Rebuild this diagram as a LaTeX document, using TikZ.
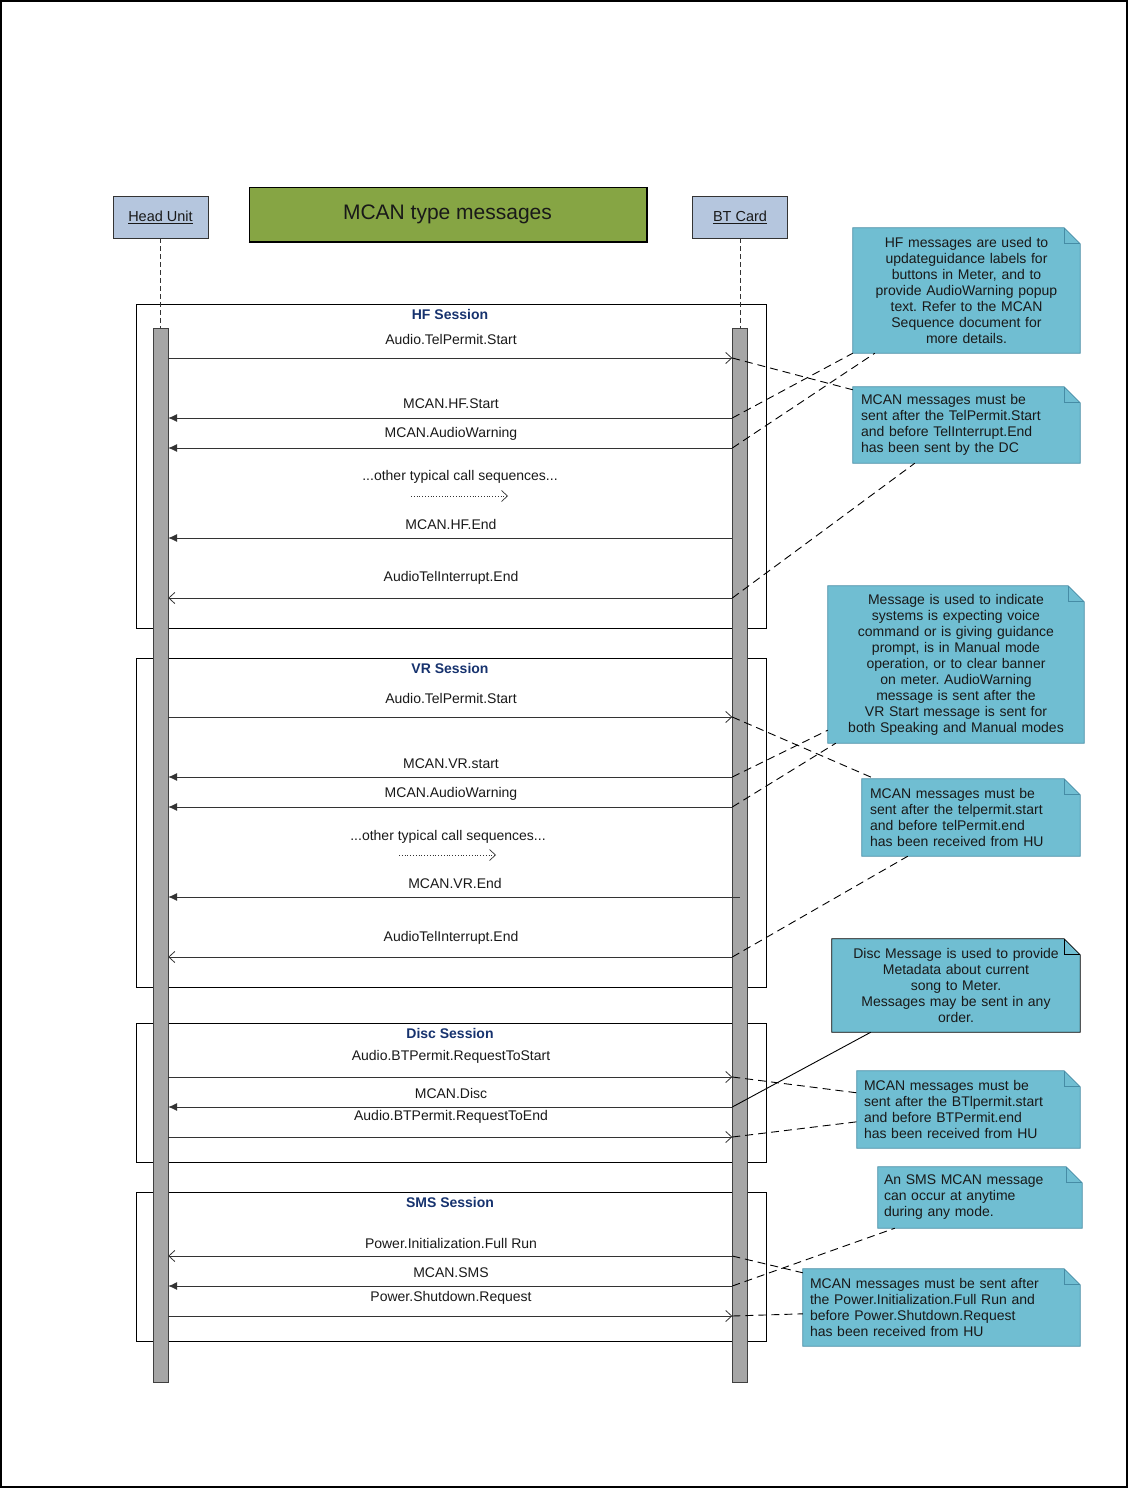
\documentclass[tikz,border=0pt]{standalone}
\usepackage{fontspec}
\setmainfont{Liberation Sans}
\usetikzlibrary{arrows.meta,calc,backgrounds}
\definecolor{notefill}{RGB}{112,190,210}
\definecolor{notedraw}{RGB}{70,140,165}
\definecolor{actorfill}{RGB}{181,198,222}
\definecolor{titlegreen}{RGB}{134,165,68}
\definecolor{barfill}{RGB}{166,166,166}
\definecolor{sessblue}{RGB}{22,50,110}
\definecolor{inkc}{RGB}{25,25,25}
\frenchspacing

\newcommand\mkmsg[2]{% name, y
  \coordinate (#1y) at (0,#2);
  \coordinate (#1) at (btbar.west |- #1y);
  \coordinate (#1h) at (hubar.east |- #1y);
}
\newcommand\notebg[2][notedraw]{%
  \filldraw[fill=notefill, draw=#1, line width=0.8pt]
    (#2.north west) -- ([xshift=-16pt]#2.north east) -- ([yshift=-16pt]#2.north east)
    -- (#2.south east) -- (#2.south west) -- cycle;
  \draw[draw=#1, line width=0.8pt] ([xshift=-16pt]#2.north east) |- ([yshift=-16pt]#2.north east);
}

\begin{document}
\begin{tikzpicture}[x=1pt,y=-1pt,
  actor/.style={draw=black!80, fill=actorfill, minimum width=95pt, minimum height=42pt,
    inner sep=0pt, text=inkc, font=\fontsize{14.5}{16}\selectfont},
  titlebox/.style={draw=black, line width=1pt, fill=titlegreen, minimum width=397pt,
    minimum height=54pt, inner sep=0pt, text=inkc, font=\fontsize{21}{23}\selectfont},
  actbar/.style={draw=black!75, fill=barfill, minimum width=15pt, minimum height=1054pt, inner sep=0pt},
  lifeline/.style={draw=black!80, line width=0.7pt, dash pattern=on 5pt off 3pt},
  session/.style={draw=black, line width=0.8pt, minimum width=630pt, inner sep=0pt},
  sesstitle/.style={text=sessblue, font=\bfseries\fontsize{14}{15}\selectfont, inner sep=0pt},
  msglabel/.style={text=inkc, font=\fontsize{14}{15}\selectfont, inner sep=0pt},
  msg/.style={draw=black!80, line width=0.8pt},
  openhead/.style={msg, -{Straight Barb[length=6pt,width=11pt,line width=0.8pt]}},
  fullhead/.style={msg, -{Latex[length=9pt,width=8pt]}},
  dotmsg/.style={draw=black!80, line width=0.8pt, dotted, -{Straight Barb[length=6pt,width=11pt,line width=0.7pt]}},
  note/.style={draw=none, inner xsep=8pt, inner ysep=0pt, text=inkc,
    font=\fontsize{14}{16}\selectfont},
  notelink/.style={draw=black, line width=0.9pt, dash pattern=on 8pt off 5pt},
  disclink/.style={draw=black, line width=0.9pt}
]
\useasboundingbox (0,0) rectangle (1128,1488);
\draw[line width=2pt] (1,1) rectangle (1127,1487);

% actors and title
\node[actor] (hu) at (160.5,217) {\underline{Head Unit}};
\node[actor] (bt) at (740,217) {\underline{BT Card}};
\node[titlebox] (title) at (447.5,214) {MCAN type messages};
\draw[line width=1.4pt] ([yshift=-1pt]title.south west) -- ([xshift=1pt,yshift=-1pt]title.south east) -- ([xshift=1pt]title.north east);

% session frames
\node[session, minimum height=324pt] (hfs) at (451,466) {};
\node[session, minimum height=329pt] (vrs) at (451,822.5) {};
\node[session, minimum height=139pt] (dcs) at (451,1092.5) {};
\node[session, minimum height=149pt] (sms) at (451,1266.5) {};
\node[sesstitle] (hft) at (450,314) {HF Session};
\node[sesstitle] (vrt) at (450,668) {VR Session};
\node[sesstitle] (dct) at (450,1033) {Disc Session};
\node[sesstitle] (smt) at (450,1202) {SMS Session};

% activation bars
\node[actbar] (hubar) at (160.5,855) {};
\node[actbar] (btbar) at (740,855) {};
\draw[lifeline] (hu.south) -- (hubar.north);
\draw[lifeline] (bt.south) -- (btbar.north);

% ---------- HF session
\mkmsg{hf1}{358}\mkmsg{hf2}{418}\mkmsg{hf3}{448}\mkmsg{hf5}{538}\mkmsg{hf6}{598}
\node[msglabel] (hf1l) at (451,339) {Audio.TelPermit.Start};
\node[msglabel] (hf2l) at (451,404) {MCAN.HF.Start};
\node[msglabel] (hf3l) at (451,434) {MCAN.AudioWarning};
\node[msglabel] (hf4l) at (460,477) {...other typical call sequences...};
\node[msglabel] (hf5l) at (451,524) {MCAN.HF.End};
\node[msglabel] (hf6l) at (451,578) {AudioTelInterrupt.End};
\draw[openhead] (hf1h) -- (hf1);
\draw[fullhead] (hf2) -- (hf2h);
\draw[fullhead] (hf3) -- (hf3h);
\coordinate (hfd1) at (411,496); \coordinate (hfd2) at (508,496);
\draw[dotmsg] (hfd1) -- (hfd2);
\draw[fullhead] (hf5) -- (hf5h);
\draw[openhead] (hf6) -- (hf6h);

% ---------- VR session
\mkmsg{vr1}{717}\mkmsg{vr2}{777}\mkmsg{vr3}{807}\mkmsg{vr5}{897}\mkmsg{vr6}{957}
\node[msglabel] (vr1l) at (451,698) {Audio.TelPermit.Start};
\node[msglabel] (vr2l) at (451,764) {MCAN.VR.start};
\node[msglabel] (vr3l) at (451,794) {MCAN.AudioWarning};
\node[msglabel] (vr4l) at (448,837) {...other typical call sequences...};
\node[msglabel] (vr5l) at (455,883) {MCAN.VR.End};
\node[msglabel] (vr6l) at (451,938) {AudioTelInterrupt.End};
\draw[openhead] (vr1h) -- (vr1);
\draw[fullhead] (vr2) -- (vr2h);
\draw[fullhead] (vr3) -- (vr3h);
\coordinate (vrd1) at (399,855); \coordinate (vrd2) at (496,855);
\draw[dotmsg] (vrd1) -- (vrd2);
\draw[fullhead] (btbar.center |- vr5y) -- (vr5h);
\draw[openhead] (vr6) -- (vr6h);

% ---------- Disc session
\mkmsg{dc1}{1077}\mkmsg{dc2}{1107}\mkmsg{dc3}{1137}
\node[msglabel] (dc1l) at (451,1057) {Audio.BTPermit.RequestToStart};
\node[msglabel] (dc2l) at (451,1093) {MCAN.Disc};
\node[msglabel] (dc3l) at (451,1117) {Audio.BTPermit.RequestToEnd};
\draw[openhead] (dc1h) -- (dc1);
\draw[fullhead] (dc2) -- (dc2h);
\draw[openhead] (dc3h) -- (dc3);

% ---------- SMS session
\mkmsg{sm1}{1256}\mkmsg{sm2}{1286}\mkmsg{sm3}{1316}
\node[msglabel] (sm1l) at (451,1243) {Power.Initialization.Full Run};
\node[msglabel] (sm2l) at (451,1273) {MCAN.SMS};
\node[msglabel] (sm3l) at (451,1298) {Power.Shutdown.Request};
\draw[openhead] (sm1) -- (sm1h);
\draw[fullhead] (sm2) -- (sm2h);
\draw[openhead] (sm3h) -- (sm3);

% ---------- notes
\node[note, minimum width=227pt, minimum height=125pt, text width=211pt, align=center] (n1) at (966.5,290.5)
  {HF messages are used to\\updateguidance labels for\\buttons in Meter, and to\\provide AudioWarning popup\\text. Refer to the MCAN\\Sequence document for\\more details.};
\node[note, minimum width=227pt, minimum height=76pt, text width=211pt, align=left] (n2) at (966.5,425)
  {MCAN messages must be\\sent after the TelPermit.Start\\and before TelInterrupt.End\\has been sent by the DC};
\node[note, minimum width=256pt, minimum height=157pt, text width=244pt, inner xsep=6pt, align=center] (n3) at (956,664.5)
  {Message is used to indicate\\systems is expecting voice\\command or is giving guidance\\prompt, is in Manual mode\\operation, or to clear banner\\on meter. AudioWarning\\message is sent after the\\VR Start message is sent for\\both Speaking and Manual modes};
\node[note, minimum width=218pt, minimum height=77pt, text width=202pt, align=left] (n4) at (971,817.5)
  {MCAN messages must be\\sent after the telpermit.start\\and before telPermit.end\\has been received from HU};
\node[note, minimum width=248pt, minimum height=93pt, text width=236pt, inner xsep=6pt, align=center] (n5) at (956,985.5)
  {Disc Message is used to provide\\Metadata about current\\song to Meter.\\Messages may be sent in any\\order.};
\node[note, minimum width=223pt, minimum height=77pt, text width=209pt, inner xsep=7pt, align=left] (n6) at (968.5,1109.5)
  {MCAN messages must be\\sent after the BTlpermit.start\\and before BTPermit.end\\has been received from HU};
\node[note, minimum width=204pt, minimum height=61pt, text width=192pt, inner xsep=6pt, align=left] (n7) at (980,1197.5)
  {An SMS MCAN message\\can occur at anytime\\during any mode.};
\node[note, minimum width=277pt, minimum height=77pt, text width=263pt, inner xsep=7pt, align=left] (n8) at (941.5,1307.5)
  {MCAN messages must be sent after\\the Power.Initialization.Full Run and\\before Power.Shutdown.Request\\has been received from HU};
\begin{scope}[on background layer]
  \notebg{n1}\notebg{n2}\notebg{n3}\notebg{n4}\notebg[black]{n5}\notebg{n6}\notebg{n7}\notebg{n8}
\end{scope}

% ---------- note links
\draw[notelink] (hf1) -- ([yshift=-3pt]n2.north west);
\draw[notelink] (hf2) -- (n1.south west);
\draw[notelink] (hf3) -- ([xshift=22pt]n1.south west);
\draw[notelink] (hf6) -- ([xshift=62pt]n2.south west);
\draw[notelink] (vr1) -- ([xshift=13pt]n4.north west);
\draw[notelink] (vr2) -- ([yshift=13pt]n3.south west);
\draw[notelink] (vr3) -- ([xshift=8pt]n3.south west);
\draw[notelink] (vr6) -- ([xshift=46pt]n4.south west);
\draw[disclink] (dc2) -- ([xshift=39pt]n5.south west);
\draw[notelink] (dc1) -- ([yshift=-22pt]n6.north west);
\draw[notelink] (dc3) -- ([yshift=-51pt]n6.north west);
\draw[notelink] (sm1) -- ([yshift=-4pt]n8.north west);
\draw[notelink] (sm2) -- ([xshift=17pt]n7.south west);
\draw[notelink] (sm3) -- ([yshift=-45pt]n8.north west);
\end{tikzpicture}
\end{document}
